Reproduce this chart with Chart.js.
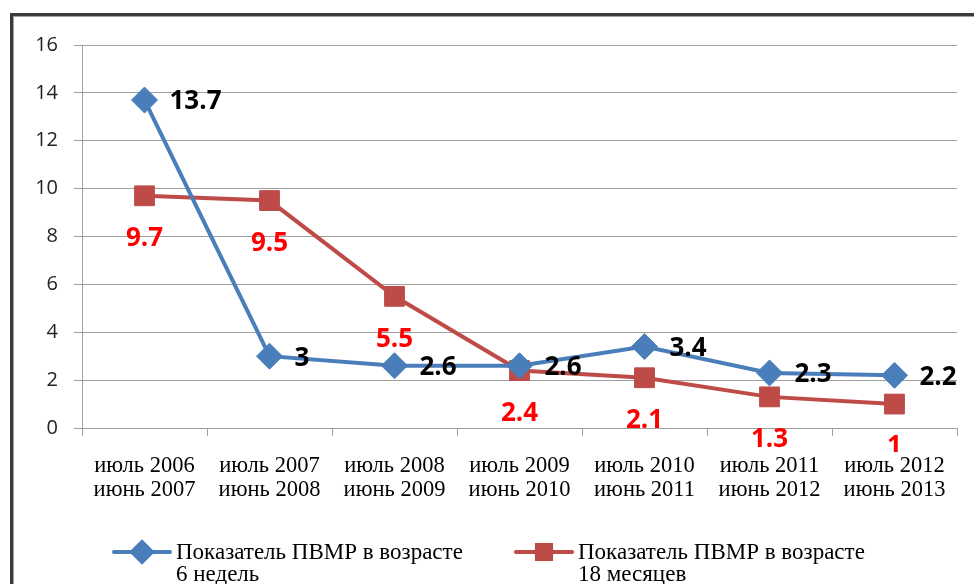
<!DOCTYPE html>
<html>
<head>
<meta charset="utf-8">
<script src="https://cdn.jsdelivr.net/npm/chart.js@4.4.0/dist/chart.umd.min.js"></script>
<style>
html, body { margin: 0; padding: 0; background: #fff; }
#wrap { position: relative; width: 974px; height: 584px; overflow: hidden; }
#frame {
    position: absolute; left: 10px; top: 13px; width: 1100px; height: 700px;
    border-top: 3px solid #3a3a3a; border-left: 3px solid #3a3a3a;
    box-shadow: inset 1px 1px 0 #a0a0a0;
}
#chart { position: absolute; left: 0; top: 0; }
</style>
</head>
<body>
<div id="wrap">
    <div id="frame"></div>
    <canvas id="chart" width="974" height="584"></canvas>
</div>
<script>
// periods on the x axis (two lines each)
const periods = [
    ["июль 2006", "июнь 2007"],
    ["июль 2007", "июнь 2008"],
    ["июль 2008", "июнь 2009"],
    ["июль 2009", "июнь 2010"],
    ["июль 2010", "июнь 2011"],
    ["июль 2011", "июнь 2012"],
    ["июль 2012", "июнь 2013"]
];
const pvmr6weeks = [13.7, 3, 2.6, 2.6, 3.4, 2.3, 2.2];
const pvmr18months = [9.7, 9.5, 5.5, 2.4, 2.1, 1.3, 1];
const seriesNames = [
    ["Показатель ПВМР в возрасте", "6 недель"],
    ["Показатель ПВМР в возрасте", "18 месяцев"]
];
const yMin = 0, yMax = 16, yStep = 2;

const BLUE = "#4a7ebb";
const RED = "#be4b48";

// value labels next to points (blue on the right, red below)
const valueLabels = {
    id: "valueLabels",
    afterDatasetsDraw(chart) {
        const ctx = chart.ctx;
        ctx.save();
        ctx.beginPath();
        ctx.rect(0, 0, chart.width, chart.chartArea.bottom + 24);
        ctx.clip();
        ctx.font = "bold 26px 'Open Sans'";
        chart.data.datasets.forEach(function(ds, i) {
            const meta = chart.getDatasetMeta(i);
            meta.data.forEach(function(pt, j) {
                ctx.fillStyle = ds.labelColor;
                ctx.textBaseline = "middle";
                if (ds.labelPos === "right") {
                    ctx.textAlign = "left";
                    ctx.fillText(String(ds.data[j]), pt.x + 25, pt.y + 2);
                } else {
                    ctx.textAlign = "center";
                    ctx.fillText(String(ds.data[j]), pt.x, pt.y + 43);
                }
            });
        });
        ctx.restore();
    }
};

// two-line legend at the bottom
const bottomLegend = {
    id: "bottomLegend",
    afterDraw(chart) {
        const ctx = chart.ctx;
        const startX = [114, 516];
        const y = 552;
        ctx.save();
        chart.data.datasets.forEach(function(ds, i) {
            const x = startX[i];
            ctx.strokeStyle = ds.borderColor;
            ctx.lineWidth = 4;
            ctx.lineCap = "round";
            ctx.beginPath();
            ctx.moveTo(x, y);
            ctx.lineTo(x + 56, y);
            ctx.stroke();
            ctx.fillStyle = ds.borderColor;
            ctx.strokeStyle = ds.borderColor;
            Chart.helpers.drawPoint(ctx, {
                pointStyle: ds.pointStyle,
                radius: ds.legendRadius,
                rotation: 0,
                borderWidth: 1
            }, x + 28, y);
            ctx.fillStyle = "#000";
            ctx.font = "23px 'Liberation Serif'";
            ctx.textAlign = "left";
            ctx.textBaseline = "middle";
            ctx.fillText(seriesNames[i][0], x + 62, y + 1);
            ctx.fillText(seriesNames[i][1], x + 62, y + 23);
        });
        ctx.restore();
    }
};

new Chart(document.getElementById("chart"), {
    type: "line",
    data: {
        labels: periods,
        datasets: [
            {
                label: seriesNames[0].join(" "),
                data: pvmr6weeks,
                borderColor: BLUE,
                backgroundColor: BLUE,
                borderWidth: 4,
                pointStyle: "rectRot",
                pointRadius: 13,
                pointBorderWidth: 1,
                pointBackgroundColor: BLUE,
                pointBorderColor: BLUE,
                tension: 0,
                labelColor: "#000",
                labelPos: "right",
                legendRadius: 10
            },
            {
                label: seriesNames[1].join(" "),
                data: pvmr18months,
                borderColor: RED,
                backgroundColor: RED,
                borderWidth: 4,
                pointStyle: "rect",
                pointRadius: 14,
                pointBorderWidth: 1,
                pointBackgroundColor: RED,
                pointBorderColor: RED,
                tension: 0,
                labelColor: "#ff0000",
                labelPos: "below",
                legendRadius: 10
            }
        ]
    },
    options: {
        responsive: false,
        animation: false,
        layout: { padding: { left: 0, right: 17, top: 45, bottom: 86 } },
        plugins: {
            legend: { display: false },
            tooltip: { enabled: false }
        },
        scales: {
            x: {
                offset: true,
                grid: {
                    offset: true,
                    drawOnChartArea: false,
                    drawTicks: true,
                    tickLength: 8,
                    color: "#a0a0a0"
                },
                border: { display: true, color: "#a0a0a0", width: 1 },
                ticks: {
                    color: "#000",
                    font: { family: "'Liberation Serif'", size: 22.5, lineHeight: 1.08 },
                    padding: 18,
                    maxRotation: 0,
                    autoSkip: false
                },
                afterFit(scale) { scale.height = 70; }
            },
            y: {
                min: yMin,
                max: yMax,
                grid: { color: "#a0a0a0", tickLength: 8 },
                border: { display: true, color: "#a0a0a0", width: 1 },
                ticks: {
                    stepSize: yStep,
                    color: "#222",
                    font: { family: "'Open Sans'", size: 20 },
                    padding: 16
                },
                afterFit(scale) { scale.width = 82; }
            }
        }
    },
    plugins: [valueLabels, bottomLegend]
});
</script>
</body>
</html>
